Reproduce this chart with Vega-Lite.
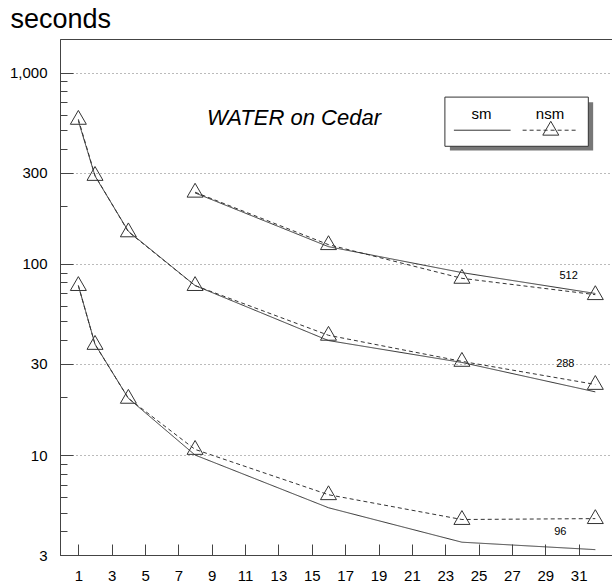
{
  "$schema": "https://vega.github.io/schema/vega-lite/v6.json",
  "width": 552,
  "height": 516,
  "autosize": {"type": "none"},
  "padding": {"left": 60, "top": 39, "right": 0, "bottom": 33},
  "background": "white",
  "config": {
    "view": {"stroke": "#444", "strokeWidth": 1},
    "font": "Liberation Sans"
  },
  "datasets": {
    "series": [
      {"size": "512", "method": "sm", "procs": 8, "seconds": 235},
      {"size": "512", "method": "sm", "procs": 16, "seconds": 123},
      {"size": "512", "method": "sm", "procs": 24, "seconds": 90},
      {"size": "512", "method": "sm", "procs": 32, "seconds": 70},
      {"size": "512", "method": "nsm", "procs": 8, "seconds": 237},
      {"size": "512", "method": "nsm", "procs": 16, "seconds": 126},
      {"size": "512", "method": "nsm", "procs": 24, "seconds": 84},
      {"size": "512", "method": "nsm", "procs": 32, "seconds": 69},
      {"size": "288", "method": "sm", "procs": 1, "seconds": 560},
      {"size": "288", "method": "sm", "procs": 2, "seconds": 288},
      {"size": "288", "method": "sm", "procs": 4, "seconds": 148},
      {"size": "288", "method": "sm", "procs": 8, "seconds": 77},
      {"size": "288", "method": "sm", "procs": 16, "seconds": 39.7},
      {"size": "288", "method": "sm", "procs": 24, "seconds": 30.5},
      {"size": "288", "method": "sm", "procs": 32, "seconds": 21.4},
      {"size": "288", "method": "nsm", "procs": 1, "seconds": 570},
      {"size": "288", "method": "nsm", "procs": 2, "seconds": 290},
      {"size": "288", "method": "nsm", "procs": 4, "seconds": 147},
      {"size": "288", "method": "nsm", "procs": 8, "seconds": 77},
      {"size": "288", "method": "nsm", "procs": 16, "seconds": 42.3},
      {"size": "288", "method": "nsm", "procs": 24, "seconds": 30.9},
      {"size": "288", "method": "nsm", "procs": 32, "seconds": 23.4},
      {"size": "96", "method": "sm", "procs": 1, "seconds": 77},
      {"size": "96", "method": "sm", "procs": 2, "seconds": 38},
      {"size": "96", "method": "sm", "procs": 4, "seconds": 19.8},
      {"size": "96", "method": "sm", "procs": 8, "seconds": 10.0},
      {"size": "96", "method": "sm", "procs": 16, "seconds": 5.3},
      {"size": "96", "method": "sm", "procs": 24, "seconds": 3.5},
      {"size": "96", "method": "sm", "procs": 32, "seconds": 3.2},
      {"size": "96", "method": "nsm", "procs": 1, "seconds": 77},
      {"size": "96", "method": "nsm", "procs": 2, "seconds": 37.9},
      {"size": "96", "method": "nsm", "procs": 4, "seconds": 19.8},
      {"size": "96", "method": "nsm", "procs": 8, "seconds": 10.7},
      {"size": "96", "method": "nsm", "procs": 16, "seconds": 6.2},
      {"size": "96", "method": "nsm", "procs": 24, "seconds": 4.6},
      {"size": "96", "method": "nsm", "procs": 32, "seconds": 4.65}
    ],
    "labels": [
      {"label": "512", "procs": 30.4, "seconds": 86},
      {"label": "288", "procs": 30.2, "seconds": 30},
      {"label": "96", "procs": 29.9, "seconds": 3.96}
    ],
    "one": [{}]
  },
  "layer": [
    {
      "data": {"name": "series"},
      "mark": {"type": "line", "color": "#333", "strokeWidth": 1},
      "encoding": {
        "x": {
          "field": "procs", "type": "quantitative",
          "scale": {"domain": [-0.1, 33], "nice": false, "zero": false},
          "axis": {
            "values": [1, 3, 5, 7, 9, 11, 13, 15, 17, 19, 21, 23, 25, 27, 29, 31],
            "tickCount": 40,
            "title": null, "grid": false,
            "tickSize": -11, "tickColor": "#444", "domainColor": "#444",
            "labelFontSize": 15, "labelColor": "black", "labelPadding": 24,
            "labelOverlap": false, "labelBound": false, "labelFlush": false,
            "labelFont": "Liberation Sans"
          }
        },
        "y": {
          "field": "seconds", "type": "quantitative",
          "scale": {"type": "log", "domain": [3, 1500], "nice": false},
          "axis": {
            "values": [3, 4, 5, 6, 7, 8, 9, 10, 20, 30, 40, 50, 60, 70, 80, 90, 100, 200, 300, 400, 500, 600, 700, 800, 900, 1000],
            "tickCount": 60,
            "labelExpr": "indexof([3,10,30,100,300,1000], datum.value) >= 0 ? format(datum.value, ',') : ''",
            "tickSize": {"condition": {"test": "indexof([3,10,30,100,300,1000], datum.value) >= 0", "value": -13}, "value": -7},
            "tickColor": "#444", "domainColor": "#444",
            "grid": true,
            "gridOpacity": {"condition": {"test": "indexof([10,30,100,300,1000], datum.value) >= 0", "value": 1}, "value": 0},
            "gridDash": [1, 3], "gridColor": "#777",
            "labelFontSize": 15, "labelColor": "black", "labelPadding": 26,
            "labelOverlap": false, "labelBound": false, "labelFlush": false,
            "labelFont": "Liberation Sans",
            "title": "seconds", "titleAngle": 0, "titleAlign": "left", "titleBaseline": "alphabetic",
            "titleX": -50, "titleY": -12, "titleFontSize": 27, "titleFontWeight": "normal",
            "titleColor": "black", "titleFont": "Liberation Sans"
          }
        },
        "detail": {"field": "size"},
        "strokeDash": {
          "field": "method", "type": "nominal",
          "scale": {"domain": ["sm", "nsm"], "range": [[1, 0], [4, 3]]},
          "legend": null
        }
      }
    },
    {
      "data": {"name": "series"},
      "transform": [{"filter": "datum.method === 'nsm'"}],
      "mark": {"type": "point", "shape": "triangle-up", "size": 256, "filled": false, "stroke": "#333", "strokeWidth": 1, "opacity": 1, "yOffset": -2},
      "encoding": {
        "x": {"field": "procs", "type": "quantitative"},
        "y": {"field": "seconds", "type": "quantitative"}
      }
    },
    {
      "data": {"name": "labels"},
      "mark": {"type": "text", "fontSize": 11, "color": "black", "align": "center", "baseline": "middle", "font": "Liberation Sans"},
      "encoding": {
        "x": {"field": "procs", "type": "quantitative"},
        "y": {"field": "seconds", "type": "quantitative"},
        "text": {"field": "label"}
      }
    },
    {
      "data": {"name": "one"},
      "mark": {"type": "text", "text": "WATER on Cedar", "fontSize": 22, "fontStyle": "italic", "color": "black", "align": "center", "baseline": "middle", "font": "Liberation Sans"},
      "encoding": {
        "x": {"datum": 13.93, "type": "quantitative"},
        "y": {"datum": 577, "type": "quantitative"}
      }
    },
    {
      "data": {"name": "one"},
      "mark": {"type": "rect", "fill": "#777", "stroke": null},
      "encoding": {
        "x": {"datum": 23.28, "type": "quantitative"},
        "x2": {"datum": 31.87},
        "y": {"datum": 700, "type": "quantitative"},
        "y2": {"datum": 392}
      }
    },
    {
      "data": {"name": "one"},
      "mark": {"type": "rect", "fill": "white", "stroke": "#333", "strokeWidth": 1},
      "encoding": {
        "x": {"datum": 22.98, "type": "quantitative"},
        "x2": {"datum": 31.58},
        "y": {"datum": 745, "type": "quantitative"},
        "y2": {"datum": 412}
      }
    },
    {
      "data": {"name": "one"},
      "mark": {"type": "text", "text": "sm", "fontSize": 15, "color": "black", "align": "center", "baseline": "middle", "font": "Liberation Sans"},
      "encoding": {
        "x": {"datum": 25.18, "type": "quantitative"},
        "y": {"datum": 610, "type": "quantitative"}
      }
    },
    {
      "data": {"name": "one"},
      "mark": {"type": "text", "text": "nsm", "fontSize": 15, "color": "black", "align": "center", "baseline": "middle", "font": "Liberation Sans"},
      "encoding": {
        "x": {"datum": 29.28, "type": "quantitative"},
        "y": {"datum": 610, "type": "quantitative"}
      }
    },
    {
      "data": {"name": "one"},
      "mark": {"type": "rule", "color": "#333", "strokeWidth": 1},
      "encoding": {
        "x": {"datum": 23.52, "type": "quantitative"},
        "x2": {"datum": 26.92},
        "y": {"datum": 500, "type": "quantitative"}
      }
    },
    {
      "data": {"name": "one"},
      "mark": {"type": "rule", "color": "#333", "strokeWidth": 1, "strokeDash": [4, 3]},
      "encoding": {
        "x": {"datum": 27.64, "type": "quantitative"},
        "x2": {"datum": 30.9},
        "y": {"datum": 500, "type": "quantitative"}
      }
    },
    {
      "data": {"name": "one"},
      "mark": {"type": "point", "shape": "triangle-up", "size": 256, "filled": false, "stroke": "#333", "strokeWidth": 1, "opacity": 1, "yOffset": -2},
      "encoding": {
        "x": {"datum": 29.33, "type": "quantitative"},
        "y": {"datum": 500, "type": "quantitative"}
      }
    }
  ]
}
